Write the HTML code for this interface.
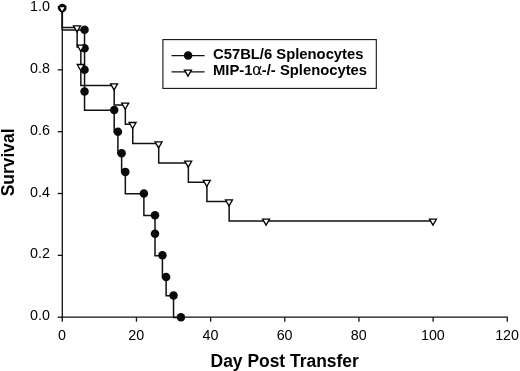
<!DOCTYPE html>
<html><head><meta charset="utf-8"><title>Survival</title>
<style>
html,body{margin:0;padding:0;background:#fff;}
body{width:520px;height:371px;overflow:hidden;}
svg{display:block;}
text{font-family:"Liberation Sans",Arial,sans-serif;fill:#000;}
.tk{font-size:14.3px;}
.b{font-weight:bold;}
</style></head><body>
<svg width="520" height="371" viewBox="0 0 520 371">
<rect width="520" height="371" fill="#fff"/>
<g stroke="#111" stroke-width="1.3" fill="none">
<path d="M62.30 8.00V317.85"/>
<path d="M61.65 317.20H507.91"/>
<path d="M57.70 317.20H62.30"/>
<path d="M57.70 255.36H62.30"/>
<path d="M57.70 193.52H62.30"/>
<path d="M57.70 131.68H62.30"/>
<path d="M57.70 69.84H62.30"/>
<path d="M57.70 8.00H62.30"/>
<path d="M62.30 317.20V321.70"/>
<path d="M136.46 317.20V321.70"/>
<path d="M210.62 317.20V321.70"/>
<path d="M284.78 317.20V321.70"/>
<path d="M358.94 317.20V321.70"/>
<path d="M433.10 317.20V321.70"/>
<path d="M507.26 317.20V321.70"/>
</g>
<g class="tk" text-anchor="end">
<text x="49.9" y="320.20">0.0</text>
<text x="49.9" y="258.36">0.2</text>
<text x="49.9" y="196.52">0.4</text>
<text x="49.9" y="134.68">0.6</text>
<text x="49.9" y="72.84">0.8</text>
<text x="49.9" y="11.00">1.0</text>
</g>
<g class="tk" text-anchor="middle">
<text x="62.10" y="339.6">0</text>
<text x="136.26" y="339.6">20</text>
<text x="210.42" y="339.6">40</text>
<text x="284.58" y="339.6">60</text>
<text x="358.74" y="339.6">80</text>
<text x="432.90" y="339.6">100</text>
<text x="507.06" y="339.6">120</text>
</g>
<text class="b" x="284.7" y="367" text-anchor="middle" font-size="17.45">Day Post Transfer</text>
<text class="b" transform="translate(14.2 162.4) rotate(-90)" text-anchor="middle" font-size="17.45">Survival</text>
<path d="M62.30 8.30V29.94H84.55V48.50V70.14V91.78V110.34H114.21V131.98H117.92V153.62H121.63V172.18H125.34V193.82H143.88V215.46H155.00V234.02V255.66H162.42V277.30H166.12V295.86H173.54V317.50H180.96" stroke="#111" stroke-width="1.5" fill="none"/>
<g fill="#0a0a0a">
<circle cx="62.30" cy="8.00" r="4.25"/>
<circle cx="84.55" cy="29.64" r="4.25"/>
<circle cx="84.55" cy="48.20" r="4.25"/>
<circle cx="84.55" cy="69.84" r="4.25"/>
<circle cx="84.55" cy="91.48" r="4.25"/>
<circle cx="114.21" cy="110.04" r="4.25"/>
<circle cx="117.92" cy="131.68" r="4.25"/>
<circle cx="121.63" cy="153.32" r="4.25"/>
<circle cx="125.34" cy="171.88" r="4.25"/>
<circle cx="143.88" cy="193.52" r="4.25"/>
<circle cx="155.00" cy="215.16" r="4.25"/>
<circle cx="155.00" cy="233.72" r="4.25"/>
<circle cx="162.42" cy="255.36" r="4.25"/>
<circle cx="166.12" cy="277.00" r="4.25"/>
<circle cx="173.54" cy="295.56" r="4.25"/>
<circle cx="180.96" cy="317.20" r="4.25"/>
</g>
<path d="M62.30 8.30V27.62H77.13V46.95H80.84V66.27V85.60H114.21V104.92H125.34V124.25H132.75V143.58H158.71V162.90H188.37V182.22H206.91V201.55H229.16V220.88H266.24H433.10" stroke="#111" stroke-width="1.5" fill="none"/>
<g fill="#fff" stroke="#000" stroke-width="1.3">
<path d="M58.65 6.53h7.00l-3.50 6.06z"/>
<path d="M73.48 25.85h7.00l-3.50 6.06z"/>
<path d="M77.19 45.18h7.00l-3.50 6.06z"/>
<path d="M77.19 64.50h7.00l-3.50 6.06z"/>
<path d="M110.56 83.83h7.00l-3.50 6.06z"/>
<path d="M121.69 103.15h7.00l-3.50 6.06z"/>
<path d="M129.10 122.48h7.00l-3.50 6.06z"/>
<path d="M155.06 141.80h7.00l-3.50 6.06z"/>
<path d="M184.72 161.13h7.00l-3.50 6.06z"/>
<path d="M203.26 180.45h7.00l-3.50 6.06z"/>
<path d="M225.51 199.78h7.00l-3.50 6.06z"/>
<path d="M262.59 219.10h7.00l-3.50 6.06z"/>
<path d="M429.45 219.10h7.00l-3.50 6.06z"/>
</g>
<rect x="162.9" y="39.6" width="213.4" height="48.8" fill="#fff" stroke="#111" stroke-width="1.1"/>
<g stroke="#111" stroke-width="1.3"><path d="M171.5 55.6H204.6"/><path d="M171.5 71.9H204.6"/></g>
<circle cx="188.1" cy="55.6" r="4.25" fill="#0a0a0a"/>
<g fill="#fff" stroke="#000" stroke-width="1.3"><path d="M184.45 70.13h7.00l-3.50 6.06z"/></g>
<text class="b" x="213.0" y="58.7" font-size="14.8">C57BL/6 Splenocytes</text>
<text class="b" x="213.0" y="75.3" font-size="14.8">MIP-1<tspan dx="-0.4" font-weight="normal" font-family="'DejaVu Sans','Liberation Sans',sans-serif" font-size="16">α</tspan><tspan dx="-0.8">-/- Splenocytes</tspan></text>
</svg></body></html>
